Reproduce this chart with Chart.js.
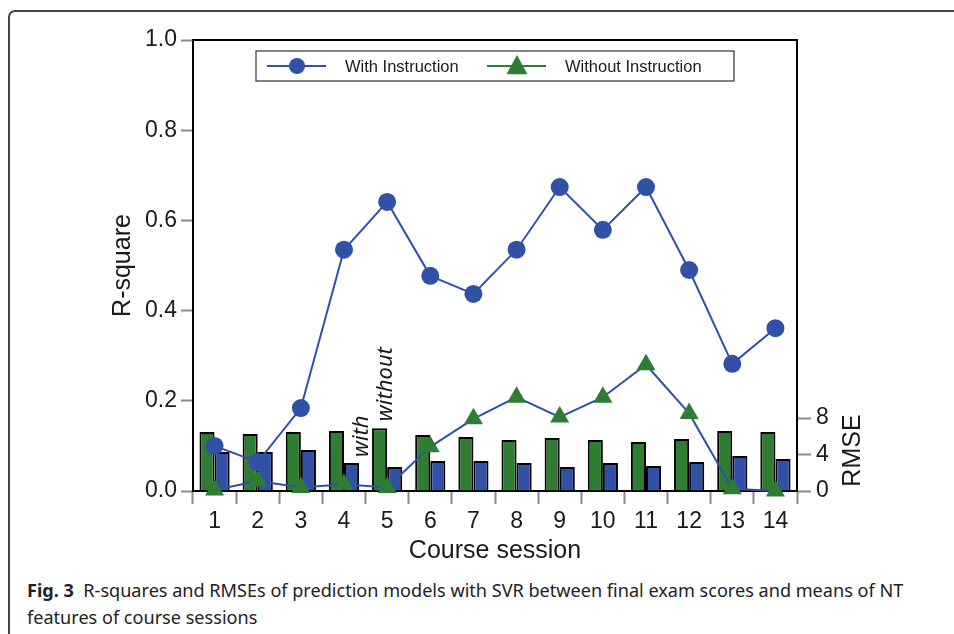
<!DOCTYPE html>
<html>
<head>
<meta charset="utf-8">
<script src="https://cdn.jsdelivr.net/npm/chart.js@4.4.1/dist/chart.umd.min.js"></script>
<style>
  html, body { margin: 0; padding: 0; background: #fff; width: 954px; height: 634px; overflow: hidden; }
  #frame { position: absolute; left: 8px; top: 10px; width: 990px; height: 700px;
           border-top: 2px solid #444; border-left: 2px solid #444; border-top-left-radius: 7px; }
  #wrap { position: absolute; left: 0; top: 0; width: 954px; height: 570px; }
  #caption { position: absolute; left: 27px; top: 577px; font-family: "Noto Sans", sans-serif;
             font-size: 18px; line-height: 27px; color: #222; white-space: nowrap; transform-origin: 0 0; }
  #caption div { display: block; }
</style>
</head>
<body>
<div id="frame"></div>
<div id="wrap"><canvas id="chart"></canvas></div>
<div id="caption">
  <div id="cap1"><b>Fig. 3</b>&nbsp; R-squares and RMSEs of prediction models with SVR between final exam scores and means of NT</div>
  <div>features of course sessions</div>
</div>
<script>
// values
const sessions = ['1','2','3','4','5','6','7','8','9','10','11','12','13','14'];
const r2With    = [0.100, 0.064, 0.184, 0.535, 0.641, 0.477, 0.437, 0.535, 0.674, 0.579, 0.674, 0.490, 0.282, 0.361];
const r2Without = [0.002, 0.022, 0.008, 0.015, 0.008, 0.098, 0.160, 0.208, 0.164, 0.208, 0.280, 0.172, 0.005, 0.000];
const rmseWithout = [6.47, 6.25, 6.47, 6.58, 6.90, 6.14, 5.92, 5.59, 5.81, 5.59, 5.37, 5.70, 6.58, 6.47];
const rmseWith    = [4.27, 4.27, 4.49, 3.07, 2.63, 3.29, 3.29, 3.07, 2.63, 3.07, 2.74, 3.18, 3.84, 3.51];
const rmseTicks = [0, 4, 8];

const BLUE = '#3151a7';
const GREEN = '#2f7d32';
const INK = '#1a1a1a';
const TICK = '#8a8a8a';

Chart.defaults.font.family = '"Liberation Sans", Arial, sans-serif';
Chart.defaults.color = INK;

// black box around the plot area
const frame = {
  id: 'frame',
  beforeDatasetsDraw(chart) {
    const a = chart.chartArea, ctx = chart.ctx;
    ctx.save();
    ctx.strokeStyle = '#000';
    ctx.lineWidth = 2;
    ctx.strokeRect(a.left, a.top, a.right - a.left, a.bottom - a.top);
    ctx.restore();
  }
};

function marker(ctx, style, x, y, r, color) {
  ctx.fillStyle = color;
  ctx.beginPath();
  if (style === 'triangle') {
    ctx.moveTo(x, y - r);
    ctx.lineTo(x + r * 0.95, y + r * 0.75);
    ctx.lineTo(x - r * 0.95, y + r * 0.75);
    ctx.closePath();
  } else {
    ctx.arc(x, y, r, 0, Math.PI * 2);
  }
  ctx.fill();
}

// boxed legend inside the plot, only the two R-square lines
const boxLegend = {
  id: 'boxLegend',
  afterDraw(chart) {
    const a = chart.chartArea, ctx = chart.ctx;
    const w = 478, h = 30;
    const left = (a.left + a.right) / 2 - w / 2, top = a.top + 11;
    ctx.save();
    ctx.fillStyle = '#fff';
    ctx.fillRect(left, top, w, h);
    ctx.strokeStyle = '#333';
    ctx.lineWidth = 1.2;
    ctx.strokeRect(left, top, w, h);
    const cy = top + h / 2;
    const slots = [{sym: 11, txt: 89}, {sym: 231, txt: 309}];
    chart.data.datasets.filter(d => d.type === 'line').forEach((d, i) => {
      const sx = left + slots[i].sym;
      ctx.strokeStyle = d.pointBackgroundColor;
      ctx.lineWidth = 2;
      ctx.beginPath();
      ctx.moveTo(sx, cy);
      ctx.lineTo(sx + 59, cy);
      ctx.stroke();
      marker(ctx, d.pointStyle, sx + 30, cy, d.pointStyle === 'triangle' ? 11 : 8, d.pointBackgroundColor);
      ctx.fillStyle = INK;
      ctx.font = '16.5px "Liberation Sans", Arial, sans-serif';
      ctx.textBaseline = 'middle';
      ctx.textAlign = 'left';
      ctx.fillText(d.label, left + slots[i].txt, cy + 1);
    });
    ctx.restore();
  }
};

// rotated notes: "with" / "without" over the bars and the RMSE axis title
const notes = {
  id: 'notes',
  afterDraw(chart) {
    const ctx = chart.ctx;
    const up = (text, x, y, font, align) => {
      ctx.save();
      ctx.translate(x, y);
      ctx.rotate(-Math.PI / 2);
      ctx.font = font;
      ctx.fillStyle = INK;
      ctx.textAlign = align;
      ctx.textBaseline = 'alphabetic';
      ctx.fillText(text, 0, 0);
      ctx.restore();
    };
    const withBar = chart.getDatasetMeta(1).data[3];
    const withoutBar = chart.getDatasetMeta(0).data[4];
    up('with', withBar.x + 16, withBar.y - 6, 'italic 22px "Noto Sans", sans-serif', 'left');
    up('without', withoutBar.x + 12, withoutBar.y - 7, 'italic 22px "Noto Sans", sans-serif', 'left');
    const yR = chart.scales.yR;
    const mid = (yR.getPixelForValue(0) + yR.getPixelForValue(8)) / 2 - 4;
    up('RMSE', chart.chartArea.right + 63, mid, '25px "Liberation Sans", Arial, sans-serif', 'center');
  }
};

const ctx = document.getElementById('chart');
new Chart(ctx, {
  data: {
    labels: sessions,
    datasets: [
      {
        type: 'bar', label: 'RMSE without', data: rmseWithout, yAxisID: 'yR', order: 2,
        backgroundColor: GREEN, borderColor: '#000', borderWidth: 2,
        categoryPercentage: 0.7, barPercentage: 1.0
      },
      {
        type: 'bar', label: 'RMSE with', data: rmseWith, yAxisID: 'yR', order: 2,
        backgroundColor: BLUE, borderColor: '#000', borderWidth: 2,
        categoryPercentage: 0.7, barPercentage: 1.0
      },
      {
        type: 'line', label: 'With Instruction', data: r2With, yAxisID: 'y', order: 0,
        borderColor: BLUE, borderWidth: 2, tension: 0, clip: false,
        pointStyle: 'circle', pointRadius: 9, pointBackgroundColor: BLUE, pointBorderWidth: 0
      },
      {
        type: 'line', label: 'Without Instruction', data: r2Without, yAxisID: 'y', order: 1,
        borderColor: BLUE, borderWidth: 2, tension: 0, clip: false,
        pointStyle: 'triangle', pointRadius: 11, pointBackgroundColor: GREEN, pointBorderWidth: 0
      }
    ]
  },
  options: {
    responsive: true,
    maintainAspectRatio: false,
    animation: false,
    events: [],
    layout: { padding: { left: 104, top: 40, right: 0, bottom: 0 } },
    plugins: {
      legend: { display: false },
      tooltip: { enabled: false }
    },
    scales: {
      x: {
        type: 'category',
        offset: true,
        grid: { display: true, offset: true, drawOnChartArea: false, tickLength: 13, tickColor: TICK, tickWidth: 2 },
        border: { display: false },
        ticks: { padding: 4, font: { size: 23 }, color: INK, maxRotation: 0, autoSkip: false },
        title: { display: true, text: 'Course session', font: { size: 25 }, color: INK, padding: { top: 4, bottom: 4 } },
        afterFit(s) { s.height = 79; }
      },
      y: {
        position: 'left',
        min: 0, max: 1,
        grid: { display: true, drawOnChartArea: false, tickLength: 12, tickColor: TICK, tickWidth: 2 },
        border: { display: false },
        ticks: { stepSize: 0.2, padding: 4, font: { size: 23 }, color: INK, callback: v => v.toFixed(1) },
        title: { display: true, text: 'R-square', font: { size: 25 }, color: INK, padding: { top: 4, bottom: 4 } },
        afterFit(s) { s.width = 89; }
      },
      yR: {
        position: 'right',
        min: 0, max: 49.5,
        grid: { display: true, drawOnChartArea: false, tickLength: 14, tickColor: TICK, tickWidth: 2 },
        border: { display: false },
        ticks: { padding: 5, font: { size: 23 }, color: INK },
        afterBuildTicks(s) { s.ticks = rmseTicks.map(v => ({ value: v })); },
        afterFit(s) { s.width = 157; }
      }
    }
  },
  plugins: [frame, boxLegend, notes]
});

// squeeze the caption to the width of the printed one
const cap = document.getElementById('caption');
const w1 = document.getElementById('cap1').getBoundingClientRect().width;
cap.style.transform = 'scaleX(' + (876 / w1).toFixed(3) + ')';
</script>
</body>
</html>
